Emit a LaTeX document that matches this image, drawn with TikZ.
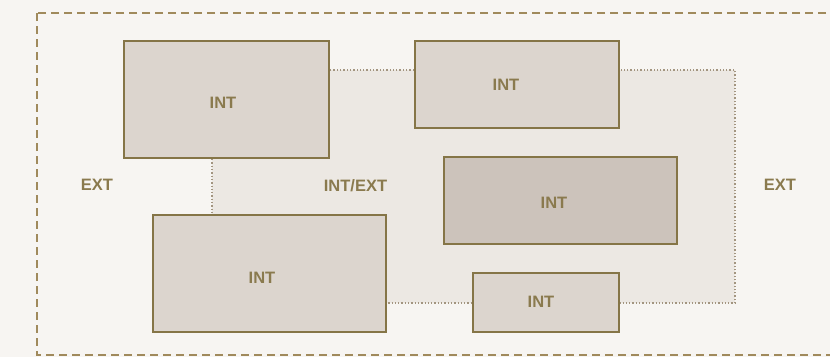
\documentclass[tikz,border=0pt]{standalone}
\usepackage{fontspec}
\setmainfont{Liberation Sans}
\definecolor{bg}{HTML}{F7F5F2}
\definecolor{edge}{HTML}{857547}
\definecolor{txt}{HTML}{8A7A4E}
\definecolor{dashc}{HTML}{A08A5C}
\definecolor{dotc}{HTML}{A39580}
\definecolor{boxfill}{HTML}{DCD5CE}
\definecolor{darkfill}{HTML}{CCC3BB}
\definecolor{zonefill}{HTML}{ECE8E3}
\tikzset{
  room/.style={draw=edge, line width=1.8pt, fill=boxfill},
  darkroom/.style={draw=edge, line width=1.8pt, fill=darkfill},
  lbl/.style={text=txt, font=\fontsize{16.5}{18}\selectfont\bfseries, inner sep=0pt},
}
\begin{document}
\begin{tikzpicture}[x=1pt, y=-1pt]
\useasboundingbox (0,0) rectangle (830,357);
\fill[bg] (0,0) rectangle (830,357);
\begin{scope}
\clip (0,0) rectangle (830,357);
\draw[dashc, line width=1.5pt, dash pattern=on 8pt off 5pt] (37,13) rectangle (850,355);
\end{scope}
% INT/EXT zone
\fill[zonefill] (212,70) rectangle (735,303);
\draw[dotc, line width=1.3pt, dash pattern=on 1.3pt off 2pt] (212,70) rectangle (735,303);
% rooms
\draw[room] (124,41) rectangle (329,158);
\draw[room] (415,41) rectangle (619,128);
\draw[darkroom] (444,157) rectangle (677,244);
\draw[room] (153,215) rectangle (386,332);
\draw[room] (473,273) rectangle (619,332);
% labels
\node[lbl] (l1) at (223,103) {INT};
\node[lbl] (l2) at (506,85) {INT};
\node[lbl] (l3) at (554,203) {INT};
\node[lbl] (l4) at (262,278) {INT};
\node[lbl] (l5) at (541,302) {INT};
\node[lbl] (e1) at (97,185) {EXT};
\node[lbl] (e2) at (355.5,186) {INT/EXT};
\node[lbl] (e3) at (780,185) {EXT};
\end{tikzpicture}
\end{document}
